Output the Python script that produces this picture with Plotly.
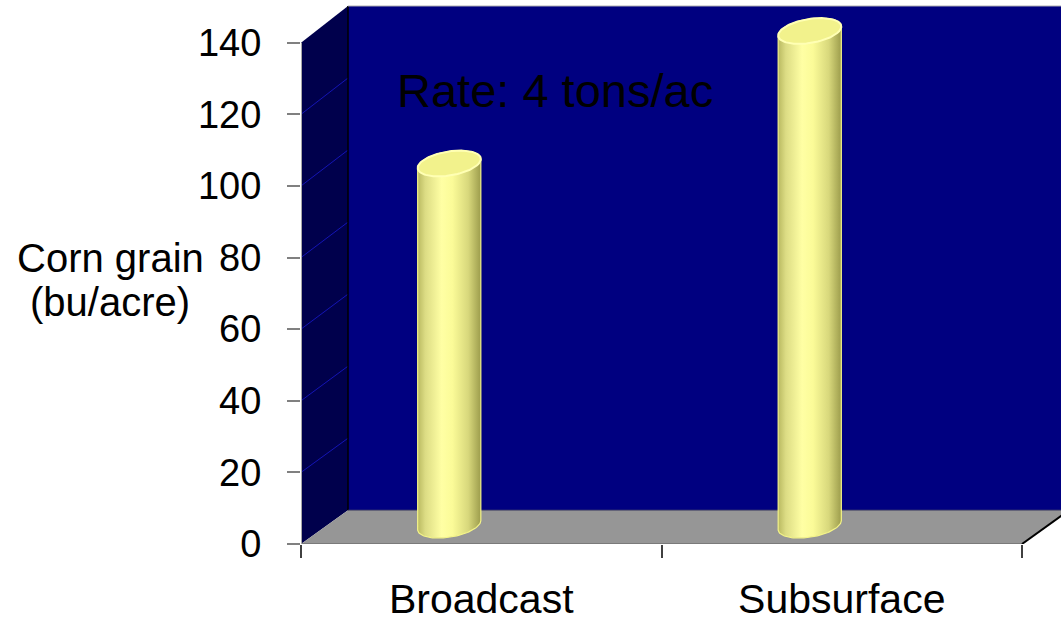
import numpy as np
import plotly.graph_objects as go

# ---------------- data ----------------
categories = ["Broadcast", "Subsurface"]
grain_yield = [101, 138]          # bu/acre
y_ticks = [0, 20, 40, 60, 80, 100, 120, 140]
y_title_lines = ["Corn grain", "(bu/acre)"]
note_text = "Rate: 4 tons/ac"

# ---------------- geometry / style ----------------
W, H = 1061, 622
ML, MR, MT, MB = 301, 0, 0, 74
PX_X = 360.5                 # pixels per category unit
PX_Y = 505.0 / 140.0         # pixels per bu/acre
plot_w = W - ML - MR
plot_h = H - MT - MB
x_range = [-0.5, -0.5 + plot_w / PX_X]
y_range = [0, plot_h / PX_Y]
FONT = "Liberation Sans, Arial, sans-serif"

def ux(px):
    return px / PX_X

def uy(px):
    return px / PX_Y

DEPTH_DX = ux(47)
FLOOR_DY = uy(34)
TOP_DY = uy(37)
YMAX = y_ticks[-1]

C_BACK = "#000080"
C_SIDE = "#00004c"
C_FLOOR = "#969696"
C_GRID = "#1414b4"

shapes = []
x0 = -0.5
xb = x0 + DEPTH_DX
x_end = x_range[1] + 0.2

# back wall
shapes.append(dict(type="path", xref="x", yref="y", layer="below",
                   path=f"M {xb},{FLOOR_DY} L {x_end},{FLOOR_DY} L {x_end},{YMAX+TOP_DY} L {xb},{YMAX+TOP_DY} Z",
                   fillcolor=C_BACK, line=dict(width=0)))
# side wall
shapes.append(dict(type="path", xref="x", yref="y", layer="below",
                   path=f"M {x0},0 L {xb},{FLOOR_DY} L {xb},{YMAX+TOP_DY} L {x0},{YMAX} Z",
                   fillcolor=C_SIDE, line=dict(width=0)))
# floor
x_right = 1.5
shapes.append(dict(type="path", xref="x", yref="y", layer="below",
                   path=f"M {x0},0 L {x_right},0 L {x_right+DEPTH_DX},{FLOOR_DY} L {xb},{FLOOR_DY} Z",
                   fillcolor=C_FLOOR, line=dict(width=0)))
# side wall gridlines
for t in y_ticks[1:-1]:
    frac = t / YMAX
    dy = FLOOR_DY + (TOP_DY - FLOOR_DY) * frac
    shapes.append(dict(type="line", xref="x", yref="y", layer="below",
                       x0=x0, y0=t, x1=xb, y1=t + dy,
                       line=dict(color=C_GRID, width=1)))
# edges
shapes.append(dict(type="line", xref="x", yref="y", layer="below",
                   x0=xb, y0=FLOOR_DY, x1=xb, y1=YMAX + TOP_DY,
                   line=dict(color="#000000", width=1.5)))
shapes.append(dict(type="line", xref="x", yref="y", layer="below",
                   x0=xb, y0=FLOOR_DY, x1=x_end, y1=FLOOR_DY,
                   line=dict(color="#50506a", width=1)))
shapes.append(dict(type="line", xref="x", yref="y", layer="below",
                   x0=x0, y0=0, x1=x_right, y1=0,
                   line=dict(color="#707070", width=1.5)))
shapes.append(dict(type="line", xref="x", yref="y", layer="below",
                   x0=x_right, y0=0, x1=x_right + DEPTH_DX, y1=FLOOR_DY,
                   line=dict(color="#000000", width=2)))
shapes.append(dict(type="line", xref="x", yref="y", layer="below",
                   x0=xb, y0=YMAX + TOP_DY, x1=x_end, y1=YMAX + TOP_DY,
                   line=dict(color="#b8b8b8", width=1)))
shapes.append(dict(type="line", xref="x", yref="y", layer="below",
                   x0=x0, y0=0, x1=x0, y1=YMAX,
                   line=dict(color="#a8a8a8", width=2)))

# ---------------- cylinders ----------------
BAR_SHIFT = ux(-32)      # horizontal offset of the cylinder axis from category centre
BAR_BASE = uy(19)        # mid-depth floor level
EA, EBX, EBY = 29.6, 11.0, 13.0   # ellipse parameters (px)
th0 = np.arctan2(EBX, EA)

def ell(cx, cy, thetas):
    xs = cx + (EA * np.cos(thetas) + EBX * np.sin(thetas)) / PX_X
    ys = cy + (EBY * np.sin(thetas)) / PX_Y
    return xs, ys

grad = [[0.0, "#b9b960"], [0.12, "#dcdc84"], [0.38, "#ffffa4"], [0.55, "#fbfb98"],
        [0.8, "#d8d87c"], [1.0, "#9c9c4c"]]

fig = go.Figure()
for i, v in enumerate(grain_yield):
    cx = i + BAR_SHIFT
    yb = BAR_BASE
    yt = v + BAR_BASE
    back = np.linspace(th0 + np.pi, th0, 60)
    front = np.linspace(th0, th0 - np.pi, 60)
    xt, ytp = ell(cx, yt, back)
    xbm, ybm = ell(cx, yb, front)
    bx = np.concatenate([xt, xbm, xt[:1]])
    by = np.concatenate([ytp, ybm, ytp[:1]])
    fig.add_trace(go.Scatter(x=bx, y=by, mode="lines", fill="toself",
                             fillgradient=dict(type="horizontal", colorscale=grad),
                             line=dict(color="#f4f488", width=1.2),
                             hoverinfo="skip", showlegend=False))
    full = np.linspace(0, 2 * np.pi, 120)
    ex, ey = ell(cx, yt, full)
    fig.add_trace(go.Scatter(x=ex, y=ey, mode="lines", fill="toself",
                             fillcolor="#f2f28c",
                             line=dict(color="#ffffb4", width=2),
                             hoverinfo="skip", showlegend=False))

def px_paper_x(px):
    return (px - ML) / plot_w

def px_paper_y(py):
    return (MT + plot_h - py) / plot_h

annotations = [
    dict(text=y_title_lines[0], x=px_paper_x(110), y=px_paper_y(260), xref="paper", yref="paper",
         showarrow=False, xanchor="center", yanchor="middle",
         font=dict(family=FONT, size=40, color="#000000")),
    dict(text=y_title_lines[1], x=px_paper_x(110), y=px_paper_y(304), xref="paper", yref="paper",
         showarrow=False, xanchor="center", yanchor="middle",
         font=dict(family=FONT, size=40, color="#000000")),
    dict(text=note_text, x=px_paper_x(555), y=px_paper_y(91), xref="paper", yref="paper",
         showarrow=False, xanchor="center", yanchor="middle",
         font=dict(family=FONT, size=47, color="#000000")),
]

fig.update_layout(
    width=W, height=H,
    margin=dict(l=ML, r=MR, t=MT, b=MB),
    paper_bgcolor="white", plot_bgcolor="white",
    shapes=shapes, annotations=annotations,
    showlegend=False,
    xaxis=dict(range=x_range, tickmode="array", tickvals=list(range(len(categories))),
               ticktext=categories, ticks="", showgrid=False, zeroline=False, showline=False,
               ticklabelstandoff=27,
               tickfont=dict(family=FONT, size=41, color="#000000"),
               minor=dict(tickmode="array", tickvals=[-0.5, 0.5, 1.5], ticks="outside",
                          ticklen=13, tickcolor="#404040", tickwidth=1.5, showgrid=False),
               fixedrange=True),
    yaxis=dict(range=y_range, tickmode="array", tickvals=y_ticks, ticks="outside",
               ticklen=13, tickcolor="#808080", tickwidth=1.5,
               showgrid=False, zeroline=False, showline=False,
               ticklabelstandoff=18,
               tickfont=dict(family=FONT, size=38, color="#000000"),
               fixedrange=True),
)

fig.write_html("out.html")
